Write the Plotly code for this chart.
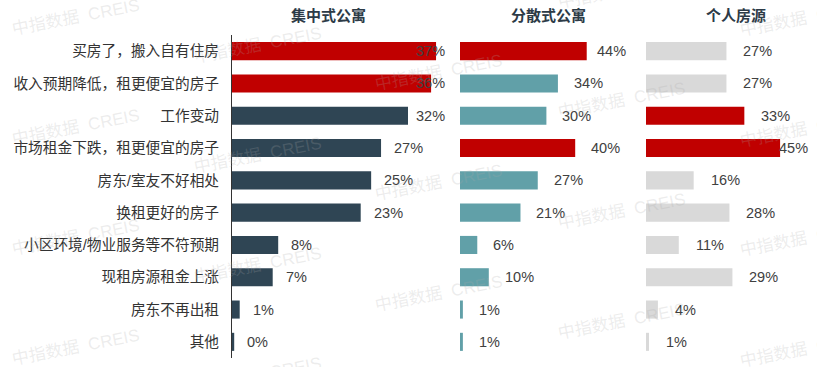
import plotly.graph_objects as go

# ---------------- data ----------------
categories = [
    "买房了，搬入自有住房",
    "收入预期降低，租更便宜的房子",
    "工作变动",
    "市场租金下跌，租更便宜的房子",
    "房东/室友不好相处",
    "换租更好的房子",
    "小区环境/物业服务等不符预期",
    "现租房源租金上涨",
    "房东不再出租",
    "其他",
]
panel_titles = ["集中式公寓", "分散式公寓", "个人房源"]
centralized = [37.1, 36.2, 32.0, 27.1, 25.3, 23.4, 8.4, 7.4, 1.4, 0.4]
dispersed = [44.0, 34.0, 30.0, 40.0, 27.0, 21.0, 6.0, 10.0, 1.0, 1.0]
individual = [27.0, 27.0, 33.0, 45.0, 16.0, 28.0, 11.0, 29.0, 4.0, 1.0]
watermark_text = "中指数据  CREIS"

# ---------------- styling ----------------
W, H = 817, 367
HIGHLIGHT = "#c00000"
BASE_COLORS = ["#2f4554", "#61a0a8", "#d9d9d9"]
FONT = "Liberation Sans, Arial, Noto Sans CJK SC, sans-serif"
LABEL_COLOR = "#404040"
LABEL_SIZE = 14.5

# panel geometry in pixels: (left, right, px per unit, label gap)
panels = [
    (232, 447, 5.5, 12),
    (460, 628, 2.88, 15),
    (646, 810, 2.98, 16),
]
title_x_px = [328, 548, 736]
plot_top, plot_bottom = 35, 358

series = [centralized, dispersed, individual]

fig = go.Figure()
annotations = []

for i, (vals, (left, right, ppu, gap)) in enumerate(zip(series, panels)):
    xname = "x" if i == 0 else f"x{i+1}"
    top2 = sorted(vals, reverse=True)[:2]
    colors = [HIGHLIGHT if v in top2 else BASE_COLORS[i] for v in vals]
    fig.add_trace(go.Bar(
        x=vals, y=categories, orientation="h",
        marker=dict(color=colors, line=dict(width=0)),
        xaxis=xname, yaxis="y", showlegend=False, hoverinfo="x+y",
    ))
    rng_max = (right - left) / ppu
    axis_def = dict(
        domain=[left / W, right / W], range=[0, rng_max],
        showgrid=False, zeroline=False, showticklabels=False,
        showline=False, ticks="", anchor="y", fixedrange=True,
        automargin=False,
    )
    key = "xaxis" if i == 0 else f"xaxis{i+1}"
    fig.update_layout(**{key: axis_def})

    for v, c in zip(vals, categories):
        txt = f"{v:.0f}%"
        ndig = len(txt) - 1
        est_w = 8.1 * ndig + 12.9
        end_px = v * ppu + gap + est_w
        if end_px > (right - left):
            annotations.append(dict(
                x=rng_max, y=c, xref=xname, yref="y", text=txt,
                xanchor="right", yanchor="middle", showarrow=False,
                font=dict(size=LABEL_SIZE, color=LABEL_COLOR, family=FONT),
            ))
        else:
            annotations.append(dict(
                x=v, y=c, xref=xname, yref="y", text=txt,
                xanchor="left", yanchor="middle", xshift=gap - 1, showarrow=False,
                font=dict(size=LABEL_SIZE, color=LABEL_COLOR, family=FONT),
            ))

    annotations.append(dict(
        x=title_x_px[i] / W, y=1 - 16 / H, xref="paper", yref="paper",
        text=panel_titles[i], showarrow=False, xanchor="center", yanchor="middle",
        font=dict(size=15, color="#2d3b47", family=FONT, weight="bold"),
    ))

# watermark tiles
for row in range(-1, 4):
    for col in range(5):
        cx = 75 + 182 * col
        cy = 17 + 28 * col + 110 * row
        if -20 < cy < H + 20:
            annotations.append(dict(
                x=cx / W, y=1 - cy / H, xref="paper", yref="paper",
                text=watermark_text, showarrow=False, textangle=-11,
                xanchor="center", yanchor="middle",
                font=dict(size=17, color="rgba(170,170,170,0.22)", family=FONT),
            ))

fig.update_layout(
    width=W, height=H,
    margin=dict(l=0, r=0, t=0, b=0, autoexpand=False),
    paper_bgcolor="white", plot_bgcolor="white",
    bargap=0.44,
    yaxis=dict(
        domain=[1 - plot_bottom / H, 1 - plot_top / H],
        autorange="reversed", type="category",
        showline=True, linecolor="#333333", linewidth=1,
        showgrid=False, zeroline=False, ticks="",
        ticklabelstandoff=9,
        tickfont=dict(size=14.7, color="#333333", family=FONT),
        anchor="x", fixedrange=True, automargin=False,
    ),
    annotations=annotations,
    font=dict(family=FONT),
)

fig.write_html(
    "out.html",
    config={"displayModeBar": False},
    post_script="document.body.style.margin='0';document.body.style.overflow='hidden';",
)
